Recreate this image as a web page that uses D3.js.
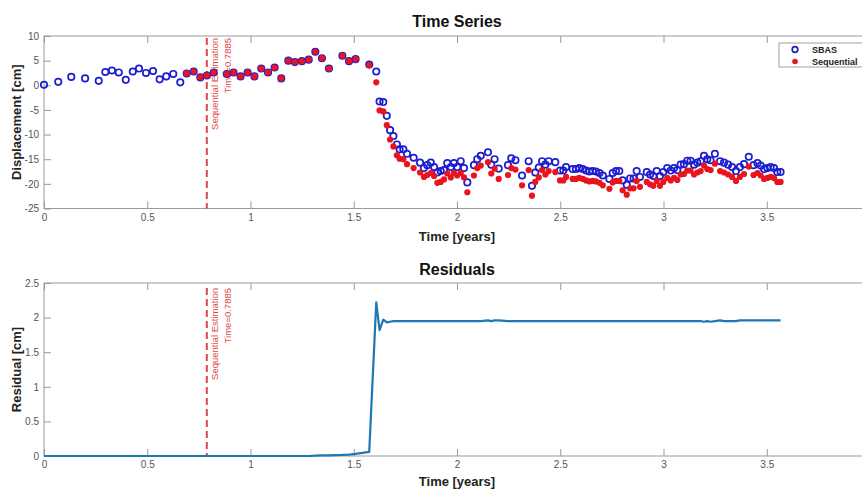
<!DOCTYPE html>
<html>
<head>
<meta charset="utf-8">
<script src="https://cdn.jsdelivr.net/npm/d3@7"></script>
<style>
  html, body { margin: 0; padding: 0; background: #fff; }
  svg { display: block; font-family: "Liberation Sans", Arial, Helvetica, sans-serif; }
  .tick text { fill: #555; font-size: 10px; }
  .tick line { stroke: #999; }
</style>
</head>
<body>
<svg id="chart" width="862" height="489"></svg>
<script>
// Acquisition epochs [years]
const times = [
  0.000, 0.069, 0.132, 0.199, 0.265, 0.297, 0.329, 0.362, 0.396, 0.430,
  0.460, 0.494, 0.528, 0.560, 0.592, 0.626, 0.660,
  0.691, 0.725, 0.757, 0.789, 0.822, 0.885, 0.918, 0.952, 0.986, 1.019,
  1.052, 1.085, 1.117, 1.149, 1.183, 1.215, 1.249, 1.282, 1.314, 1.346,
  1.380, 1.445, 1.477, 1.509, 1.575,
  1.609, 1.625, 1.643, 1.660, 1.676, 1.692, 1.709, 1.722, 1.740, 1.758,
  1.790, 1.821, 1.840, 1.856, 1.873, 1.889, 1.905, 1.921, 1.937, 1.953,
  1.970, 1.985, 2.001, 2.018, 2.034, 2.050, 2.082, 2.098, 2.115, 2.150,
  2.166, 2.182, 2.202, 2.247, 2.263, 2.283, 2.315, 2.347, 2.363, 2.379,
  2.396, 2.412, 2.428, 2.444, 2.476, 2.499, 2.515, 2.528, 2.560, 2.576,
  2.592, 2.609, 2.625, 2.641, 2.657, 2.673, 2.690, 2.706, 2.738, 2.754,
  2.770, 2.786, 2.802, 2.822, 2.838, 2.855, 2.870, 2.886, 2.919, 2.935,
  2.951, 2.967, 2.983, 2.999, 3.018, 3.035, 3.051, 3.067, 3.083, 3.099,
  3.115, 3.131, 3.148, 3.164, 3.180, 3.196, 3.212, 3.228, 3.249, 3.274,
  3.293, 3.313, 3.332, 3.351, 3.370, 3.390, 3.413, 3.436, 3.455, 3.471,
  3.487, 3.503, 3.519, 3.535, 3.551, 3.567
];

// SBAS displacement [cm]
const sbas = [
  0.1, 0.7, 1.7, 1.4, 0.9, 2.7, 3.0, 2.6, 1.1, 2.8,
  3.4, 2.5, 2.9, 1.2, 1.8, 2.3, 0.6,
  2.4, 2.8, 1.6, 2.0, 2.6, 2.3, 2.6, 1.8, 2.6, 1.8,
  3.4, 2.6, 3.6, 1.4, 5.0, 4.7, 4.9, 5.2, 6.8, 5.5,
  3.4, 6.0, 4.9, 5.3, 4.2,
  2.8, -3.3, -3.4, -6.2, -9.1, -10.3, -12.0, -13.0, -13.0, -13.9,
  -14.7, -15.7, -16.8, -16.2, -15.7, -16.6, -17.7, -17.4, -17.2, -15.8,
  -16.6, -15.8, -16.6, -15.4, -16.8, -19.7, -16.2, -15.0, -14.3, -13.6,
  -16.1, -15.0, -16.9, -16.2, -14.8, -15.2, -18.3, -15.4, -20.4, -17.7,
  -16.7, -15.4, -16.1, -15.4, -15.6, -17.3, -17.3, -16.6, -17.0, -17.0,
  -16.8, -17.0, -17.3, -17.5, -17.4, -17.5, -17.8, -18.3, -19.0, -17.8,
  -17.4, -17.4, -19.3, -20.2, -18.9, -18.9, -17.4, -18.6, -17.6, -18.1,
  -18.4, -17.4, -18.4, -17.6, -16.8, -17.3, -16.8, -17.2, -16.1, -16.0,
  -15.3, -15.3, -16.1, -15.7, -15.4, -14.3, -15.0, -15.2, -13.9, -15.4,
  -15.7, -16.1, -16.6, -17.4, -16.6, -16.0, -14.5, -16.2, -15.8, -16.3,
  -17.0, -16.8, -16.6, -16.8, -17.6, -17.6
];

// Sequential estimate [cm] (starts shortly before the estimation time)
const sequential = [
  null, null, null, null, null, null, null, null, null, null,
  null, null, null, null, null, null, null,
  2.4, 2.8, 1.6, 2.0, 2.6, 2.3, 2.6, 1.8, 2.6, 1.8,
  3.4, 2.6, 3.6, 1.4, 5.0, 4.7, 4.9, 5.2, 6.8, 5.5,
  3.4, 6.0, 4.9, 5.3, 4.1,
  0.6, -5.1, -5.3, -8.1, -11.0, -12.4, -14.2, -14.9, -15.0, -16.0,
  -16.8, -17.7, -18.6, -18.2, -17.8, -18.4, -19.8, -19.6, -19.1, -17.9,
  -18.7, -17.8, -18.3, -17.8, -18.7, -21.7, -18.3, -16.8, -16.3, -15.6,
  -17.9, -16.9, -19.0, -18.2, -16.8, -17.1, -20.3, -17.2, -22.4, -19.6,
  -18.7, -17.2, -18.1, -17.4, -17.6, -19.3, -19.3, -18.6, -19.0, -19.0,
  -18.8, -19.0, -19.3, -19.5, -19.4, -19.5, -19.8, -20.3, -21.0, -19.7,
  -19.4, -19.4, -21.3, -22.2, -20.9, -20.9, -19.4, -20.6, -19.6, -20.1,
  -20.4, -19.4, -20.4, -19.6, -18.8, -19.3, -18.8, -19.2, -18.1, -18.0,
  -17.3, -17.3, -18.1, -17.7, -17.4, -16.3, -17.0, -17.2, -15.9, -17.4,
  -17.7, -18.1, -18.6, -19.4, -18.6, -18.0, -16.5, -18.2, -17.8, -18.3,
  -19.0, -18.8, -18.6, -18.8, -19.6, -19.6
];

// Residual [cm]
const residual = [
  0, 0, 0, 0, 0, 0, 0, 0, 0, 0,
  0, 0, 0, 0, 0, 0, 0,
  0, 0, 0, 0, 0, 0, 0, 0, 0, 0,
  0, 0, 0, 0, 0, 0, 0, 0, 0.005, 0.01,
  0.01, 0.015, 0.02, 0.03, 0.06,
  2.22, 1.82, 1.97, 1.93, 1.94, 1.95, 1.95, 1.95, 1.95, 1.95,
  1.95, 1.95, 1.95, 1.95, 1.95, 1.95, 1.95, 1.95, 1.95, 1.95,
  1.95, 1.95, 1.95, 1.95, 1.95, 1.95, 1.95, 1.95, 1.95, 1.96,
  1.95, 1.96, 1.96, 1.95, 1.95, 1.95, 1.95, 1.95, 1.95, 1.95,
  1.95, 1.95, 1.95, 1.95, 1.95, 1.95, 1.95, 1.95, 1.95, 1.95,
  1.95, 1.95, 1.95, 1.95, 1.95, 1.95, 1.95, 1.95, 1.95, 1.95,
  1.95, 1.95, 1.95, 1.95, 1.95, 1.95, 1.95, 1.95, 1.95, 1.95,
  1.95, 1.95, 1.95, 1.95, 1.95, 1.95, 1.95, 1.95, 1.95, 1.95,
  1.95, 1.95, 1.95, 1.95, 1.95, 1.94, 1.95, 1.94, 1.95, 1.96,
  1.95, 1.95, 1.95, 1.95, 1.96, 1.96, 1.96, 1.96, 1.96, 1.96,
  1.96, 1.96, 1.96, 1.96, 1.96, 1.96
];

const estimationTime = 0.7885;
const xTicks = [0, 0.5, 1, 1.5, 2, 2.5, 3, 3.5, 4];
const xTickLabels = ["0", "0.5", "1", "1.5", "2", "2.5", "3", "3.5", ""];
const dispTicks = [-25, -20, -15, -10, -5, 0, 5, 10];
const resTicks = [0, 0.5, 1, 1.5, 2, 2.5];
const legendLabels = ["SBAS", "Sequential"];

const svg = d3.select("#chart");
const frameColor = "#9a9a9a";
const tickLen = 7;
const blue = "#1c1cd0";
const red = "#e8141e";
const lineRed = "#e04848";

const x = d3.scaleLinear().domain([0, 4]).range([44, 870]);

function panel(yScale, yTickVals, title, yLabel, titleY, xLabelY) {
  const [y0, y1] = yScale.range();
  const g = svg.append("g");

  g.append("g").attr("transform", `translate(0,${y0})`)
    .call(d3.axisBottom(x).tickValues(xTicks)
      .tickFormat((d, i) => xTickLabels[i]).tickSize(-tickLen).tickPadding(5))
    .call(a => a.select(".domain").remove());
  g.append("g").attr("transform", `translate(0,${y1})`)
    .call(d3.axisTop(x).tickValues(xTicks).tickFormat("").tickSize(-tickLen))
    .call(a => a.select(".domain").remove());
  g.append("g").attr("transform", `translate(${x(0)},0)`)
    .call(d3.axisLeft(yScale).tickValues(yTickVals).tickFormat(d => String(d))
      .tickSize(-tickLen).tickPadding(5))
    .call(a => a.select(".domain").remove());
  g.append("g").attr("transform", `translate(${x(4)},0)`)
    .call(d3.axisRight(yScale).tickValues(yTickVals).tickFormat("").tickSize(-tickLen))
    .call(a => a.select(".domain").remove());

  g.append("rect")
    .attr("x", x(0)).attr("y", y1)
    .attr("width", x(4) - x(0)).attr("height", y0 - y1)
    .attr("fill", "none").attr("stroke", frameColor).attr("stroke-width", 1);

  const cx = (x(0) + x(4)) / 2;
  svg.append("text").attr("x", cx).attr("y", titleY)
    .attr("text-anchor", "middle").attr("font-size", 16).attr("font-weight", "bold")
    .attr("fill", "#111").text(title);
  svg.append("text").attr("x", cx).attr("y", xLabelY)
    .attr("text-anchor", "middle").attr("font-size", 13).attr("font-weight", "bold")
    .attr("fill", "#222").text("Time [years]");
  svg.append("text")
    .attr("transform", `translate(21,${(y0 + y1) / 2}) rotate(-90)`)
    .attr("text-anchor", "middle").attr("font-size", 13).attr("font-weight", "bold")
    .attr("fill", "#222").text(yLabel);
  return g;
}

function estimationMarker(yTopPx, yBottomPx) {
  const xe = x(estimationTime);
  svg.append("line")
    .attr("x1", xe).attr("x2", xe).attr("y1", yTopPx).attr("y2", yBottomPx)
    .attr("stroke", lineRed).attr("stroke-width", 2).attr("stroke-dasharray", "7,4");
  const t = svg.append("text")
    .attr("transform", `translate(${xe},${yTopPx}) rotate(-90)`)
    .attr("text-anchor", "end").attr("font-size", 9.5).attr("fill", lineRed);
  t.append("tspan").attr("x", 0).attr("y", 11).text("Sequential Estimation");
  t.append("tspan").attr("x", 0).attr("y", 24).text("Time=" + estimationTime);
}

// ---- Time series panel ----
const yDisp = d3.scaleLinear().domain([-25, 10]).range([208.5, 36]);
panel(yDisp, dispTicks, "Time Series", "Displacement [cm]", 27, 241);

estimationMarker(38, 208.5);

svg.append("g").selectAll("circle")
  .data(times.map((t, i) => ({ t, v: sbas[i] })))
  .join("circle")
  .attr("cx", d => x(d.t)).attr("cy", d => yDisp(d.v)).attr("r", 3.2)
  .attr("fill", "none").attr("stroke", blue).attr("stroke-width", 1.7);

svg.append("g").selectAll("circle")
  .data(times.map((t, i) => ({ t, v: sequential[i] })).filter(d => d.v !== null))
  .join("circle")
  .attr("cx", d => x(d.t)).attr("cy", d => yDisp(d.v)).attr("r", 3.1)
  .attr("fill", red);

// Legend
const lg = svg.append("g");
lg.append("rect").attr("x", 779).attr("y", 43).attr("width", 86).attr("height", 24)
  .attr("fill", "#fff").attr("stroke", "#a0a0a0").attr("stroke-width", 1);
lg.append("circle").attr("cx", 795).attr("cy", 49.5).attr("r", 2.8)
  .attr("fill", "none").attr("stroke", blue).attr("stroke-width", 1.7);
lg.append("circle").attr("cx", 795).attr("cy", 61.5).attr("r", 2.8).attr("fill", red);
lg.selectAll("text").data(legendLabels).join("text")
  .attr("x", 812).attr("y", (d, i) => 53 + i * 12)
  .attr("font-size", 9).attr("font-weight", "bold").attr("fill", "#222")
  .text(d => d);

// ---- Residuals panel ----
const yRes = d3.scaleLinear().domain([0, 2.5]).range([456, 283]);
panel(yRes, resTicks, "Residuals", "Residual [cm]", 275, 486);

estimationMarker(288, 456);

svg.append("path")
  .datum(times.map((t, i) => ({ t, v: residual[i] })))
  .attr("d", d3.line().x(d => x(d.t)).y(d => yRes(d.v)))
  .attr("fill", "none").attr("stroke", "#1f77b4").attr("stroke-width", 2.2)
  .attr("stroke-linejoin", "round");
</script>
</body>
</html>
